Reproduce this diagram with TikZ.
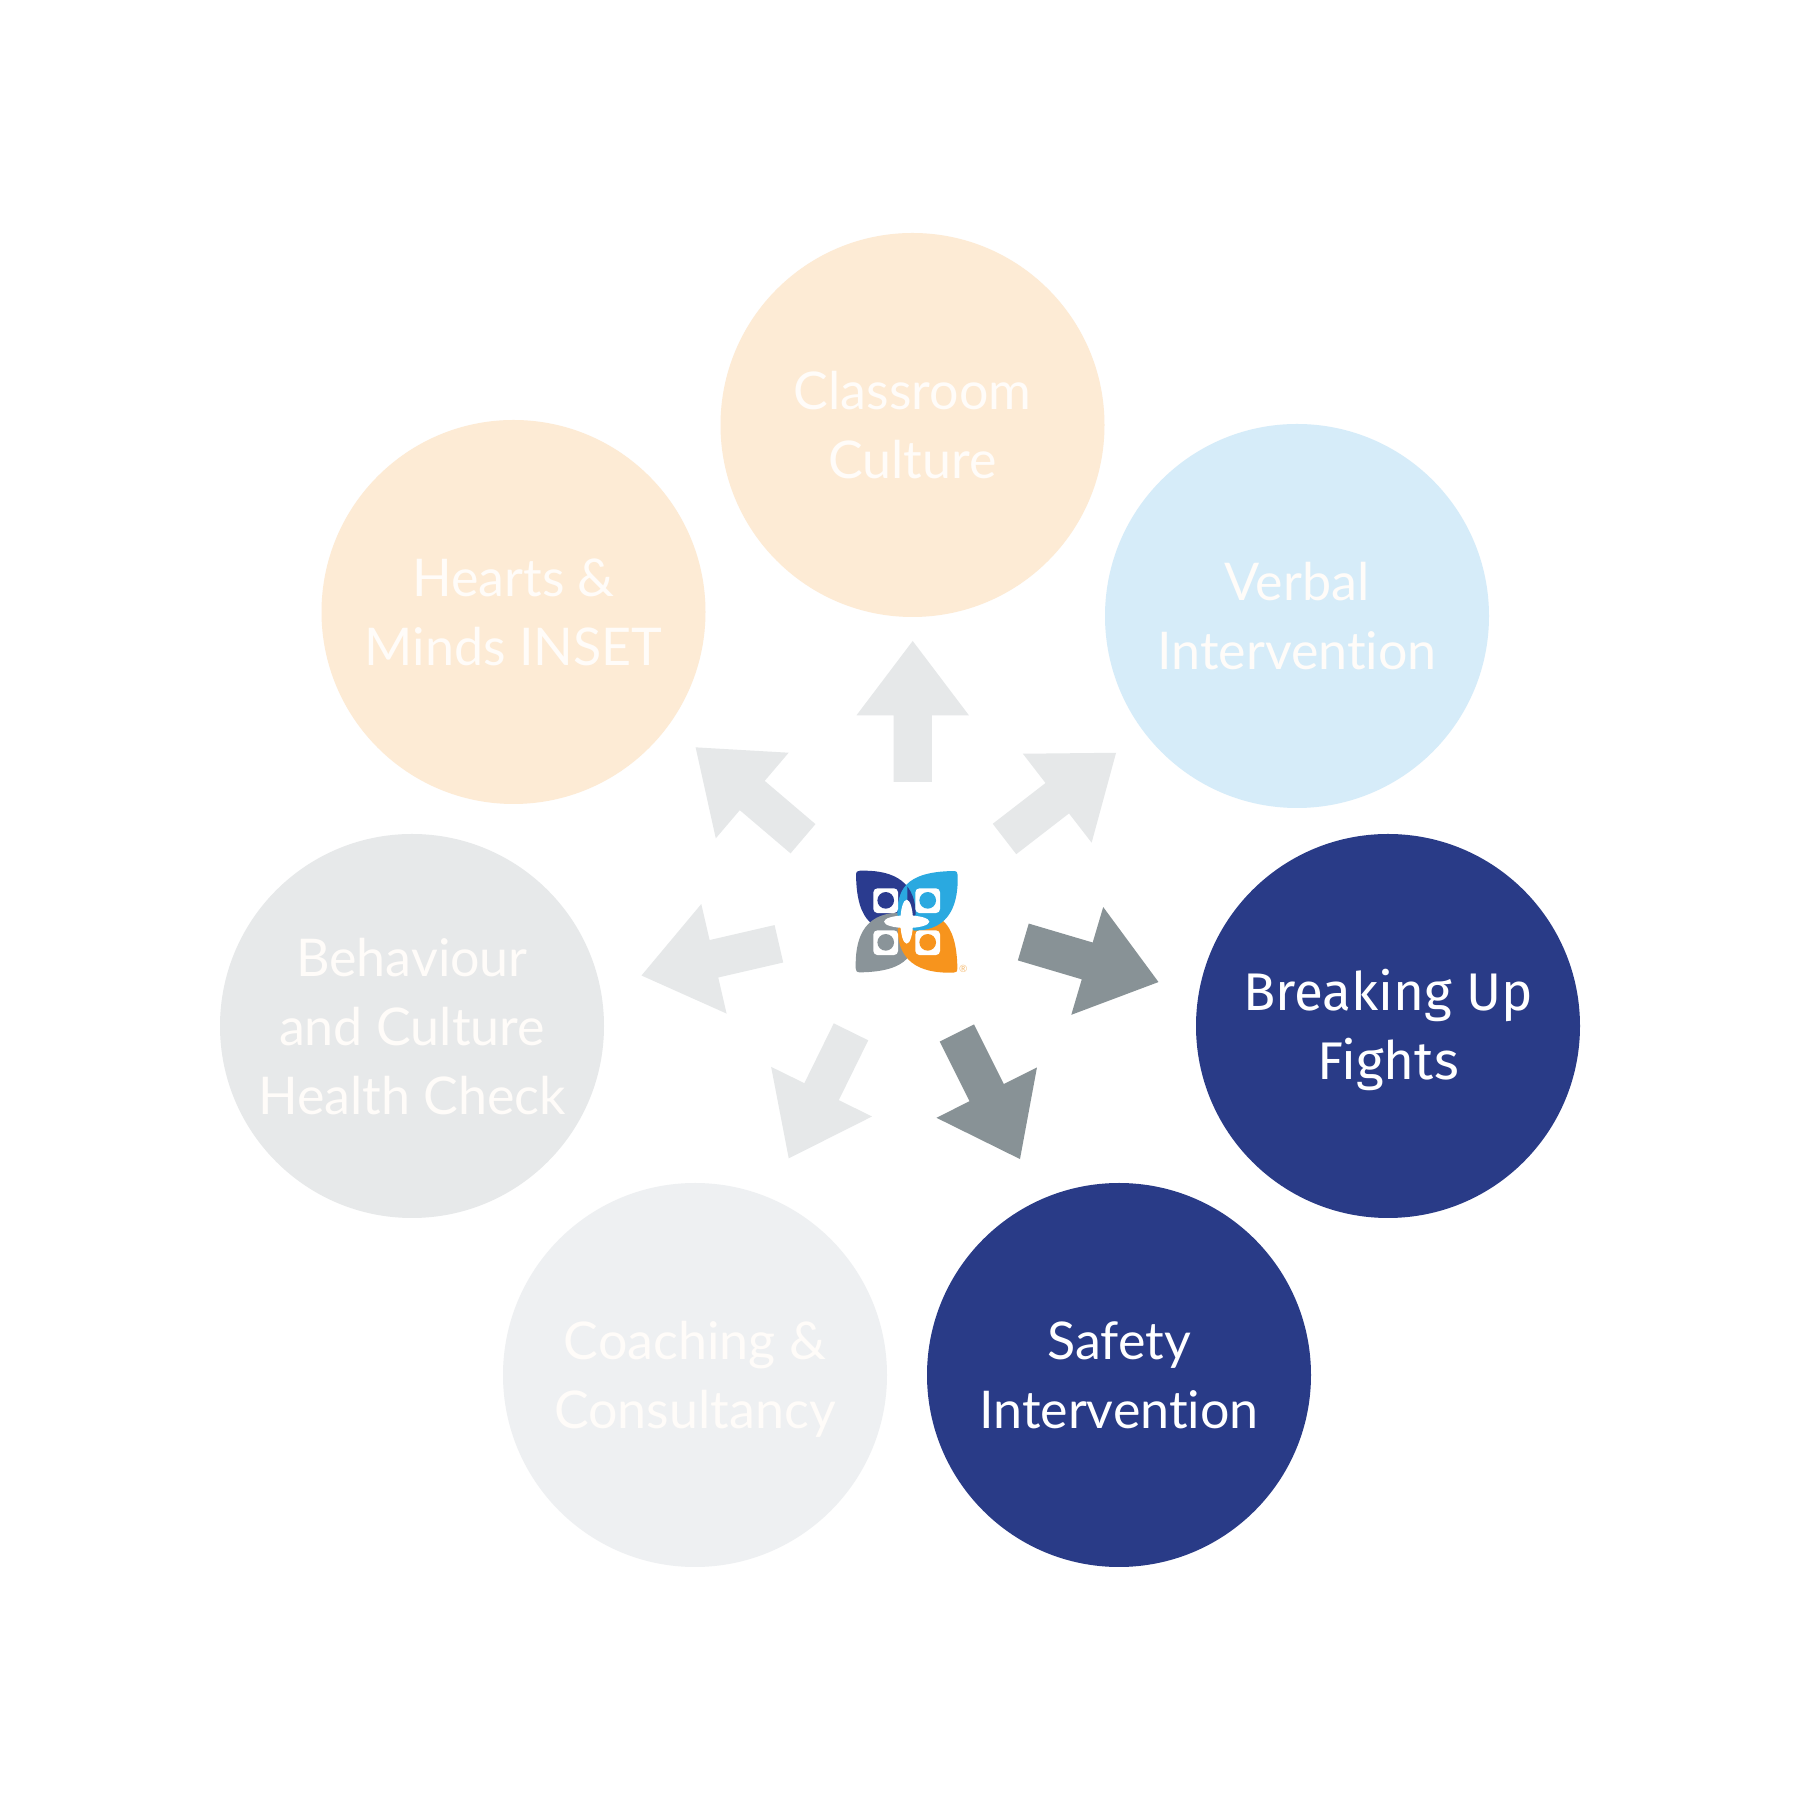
\documentclass[tikz,border=0pt]{standalone}
\usepackage{fontspec}
\setmainfont{Lato}[Ligatures=NoCommon]
\newfontfamily\darkfont{Fira Sans}
\usetikzlibrary{shapes.arrows}
\newcommand{\logopetal}[2]{%
\path[fill=#2,rotate=#1] (-140,153) .. controls (-60,155) and (26,135) .. (27,22) -- (-20,-28)
	.. controls (-90,-28) and (-150,-10) .. (-152,140) .. controls (-152,150) and (-148,153) .. (-140,153) -- cycle;}
\newcommand{\topstrut}{\rule{0pt}{54pt}}
\newcommand{\botstrut}{\rule[-15pt]{0pt}{15pt}}
\tikzset{
	stepcircle/.style={circle,inner sep=0pt,outer sep=0pt,minimum size=384pt,align=center,
		font=\fontsize{52}{69}\selectfont},
	fadedtext/.style={text=textColor},
	activetext/.style={text=white},
	blockarrow/.style={single arrow,anchor=tail,inner sep=0pt,outer sep=0pt,minimum height=141pt,minimum width=112pt,
		text height=19pt,text depth=19pt,
		single arrow head extend=37pt,single arrow head indent=0pt,single arrow tip angle=74.2},
}
\begin{document}
\begin{tikzpicture}[x=1pt,y=1pt]
\definecolor{peachColor}{RGB}{253,235,213}
\definecolor{skyColor}{RGB}{214,236,249}
\definecolor{greyColor}{RGB}{231,233,234}
\definecolor{paleColor}{RGB}{238,240,242}
\definecolor{navyColor}{RGB}{41,59,135}
\definecolor{textColor}{RGB}{255,252,249}
\definecolor{arrowColor}{RGB}{230,232,233}
\definecolor{darkArrowColor}{RGB}{136,146,150}
\definecolor{logoNavy}{RGB}{42,59,143}
\definecolor{logoCyan}{RGB}{42,169,224}
\definecolor{logoOrange}{RGB}{247,148,29}
\definecolor{logoGrey}{RGB}{138,148,153}
\definecolor{markColor}{RGB}{246,190,120}
\path[use as bounding box,fill=white] (0,0) rectangle (1800,1800);

% circles
\node[stepcircle,fadedtext,fill=peachColor] (classroom) at (912.5,1375) {\topstrut Classroom\\Culture\botstrut};
\node[stepcircle,fadedtext,fill=skyColor] (verbal) at (1297,1184) {\topstrut Verbal\\Intervention\botstrut};
\node[stepcircle,activetext,fill=navyColor,font=\darkfont\fontsize{53}{69}\selectfont] (breaking) at (1388,774) {\topstrut Breaking Up\\Fights\botstrut};
\node[stepcircle,activetext,fill=navyColor] (safety) at (1119,425) {\topstrut Safety\\Intervention\botstrut};
\node[stepcircle,fadedtext,fill=paleColor] (coaching) at (695,425) {\topstrut Coaching \&\\Consultancy\botstrut};
\node[stepcircle,fadedtext,fill=greyColor] (behaviour) at (412,774) {\topstrut Behaviour\\and Culture\\Health Check\botstrut};
\node[stepcircle,fadedtext,fill=peachColor] (hearts) at (513.5,1188) {\topstrut Hearts \&\\Minds INSET\botstrut};

% arrows
\node[blockarrow,fill=arrowColor,rotate=90] (toclassroom) at (912.7,1018) {};
\node[blockarrow,fill=arrowColor,rotate=37.7] (toverbal) at (1004.5,961) {};
\node[blockarrow,fill=darkArrowColor,rotate=-16.5] (tobreaking) at (1023.3,858) {};
\node[blockarrow,fill=darkArrowColor,rotate=-63.4] (tosafety) at (956.85,767) {};
\node[blockarrow,fill=arrowColor,rotate=243.8] (tocoaching) at (851,768.15) {};
\node[blockarrow,fill=arrowColor,rotate=193] (tobehaviour) at (778.9,856.2) {};
\node[blockarrow,fill=arrowColor,rotate=139.6] (tohearts) at (803,961.25) {};

% logo
\begin{scope}[shift={(906.7,878.3)},scale=0.3333]
\logopetal{0}{logoNavy}
\logopetal{90}{logoGrey}
\logopetal{180}{logoOrange}
\logopetal{-90}{logoCyan}
\begin{scope}
\path[clip] (2,0) rectangle (160,160);
\logopetal{0}{logoNavy}
\end{scope}
\path[fill=white,rounded corners=4] (-100,26) rectangle (-26,100);
\path[fill=white,rounded corners=4] (26,26) rectangle (100,100);
\path[fill=white,rounded corners=4] (-100,-26) rectangle (-26,-100);
\path[fill=white,rounded corners=4] (26,-26) rectangle (100,-100);
\path[fill=logoNavy] (-63,64) circle (25);
\path[fill=logoCyan] (63,64) circle (25);
\path[fill=logoGrey] (-63,-62) circle (25);
\path[fill=logoOrange] (63,-62) circle (25);
\path[fill=white] (0,0) ellipse (68 and 19);
\path[fill=white] (0,0) ellipse (19 and 66);
\path[fill=white] (-22,0) -- (0,22) -- (22,0) -- (0,-22) -- cycle;
\end{scope}
\node[text=markColor,inner sep=0pt,outer sep=0pt,font=\fontsize{10}{10}\selectfont] (logomark) at (963.3,830.7) {\textregistered};
\end{tikzpicture}
\end{document}
